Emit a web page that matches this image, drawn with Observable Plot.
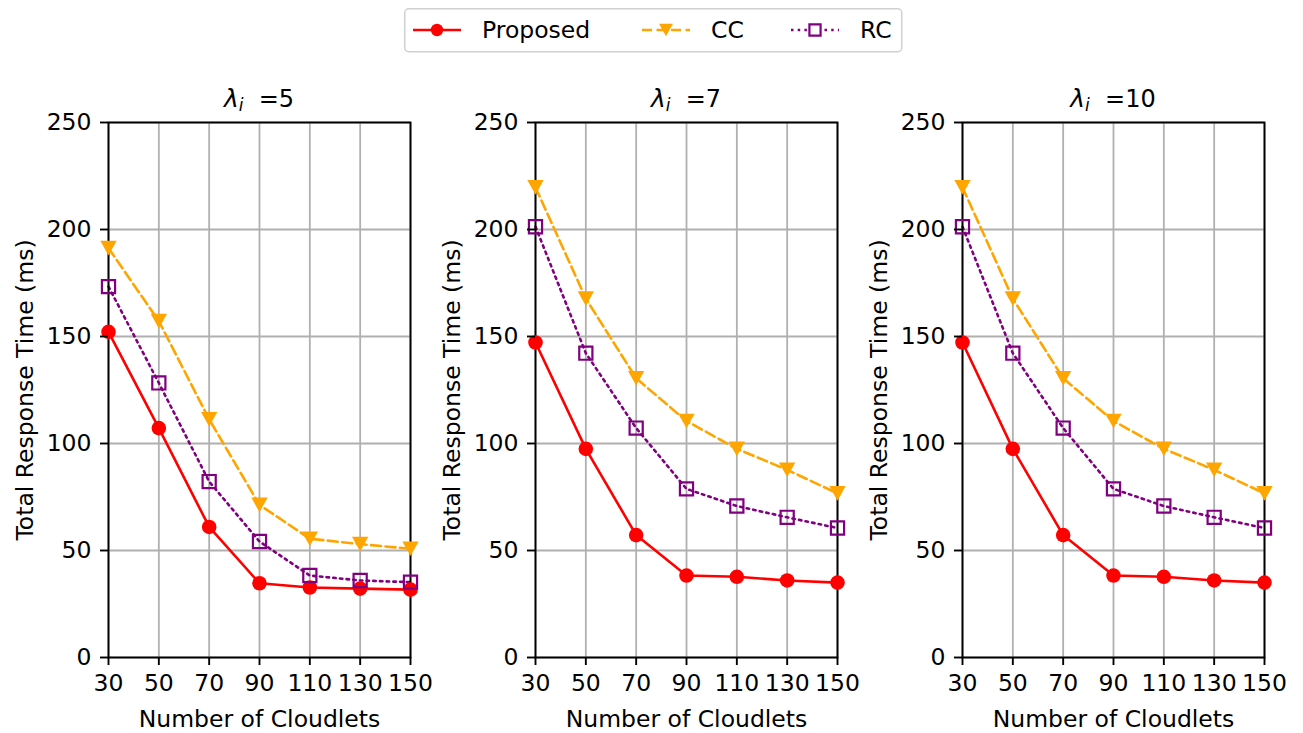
<!DOCTYPE html>
<html>
<head>
<meta charset="utf-8">
<script src="https://cdn.jsdelivr.net/npm/d3@7"></script>
<script src="https://cdn.jsdelivr.net/npm/@observablehq/plot@0.6"></script>
<style>
  body { margin: 0; background: #fff; }
  #wrap { position: relative; width: 1303px; height: 733px; overflow: hidden; font-family: "DejaVu Sans", sans-serif; }
  .panel { position: absolute; top: 0; }
  #legend { position: absolute; left: 404px; top: 8px; }
  svg text { white-space: pre; }
</style>
</head>
<body>
<div id="wrap"></div>
<script>
// ---------- data ----------
const cloudlets = [30, 50, 70, 90, 110, 130, 150];
const yTicks = [0, 50, 100, 150, 200, 250];
const lambdaLabels = ["5", "7", "10"];
const seriesNames = ["Proposed", "CC", "RC"];

const proposed5 = [152.2, 107.2, 61.0, 34.7, 32.7, 32.2, 31.7];
const cc5       = [191.3, 157.2, 111.3, 71.3, 55.5, 53.0, 50.8];
const rc5       = [173.3, 128.3, 82.2, 54.2, 38.3, 36.0, 35.2];

const proposed7 = [147.2, 97.5, 57.2, 38.3, 37.7, 36.0, 35.0];
const cc7       = [219.7, 167.7, 130.5, 110.5, 97.5, 87.7, 76.7];
const rc7       = [201.3, 142.2, 107.2, 78.8, 70.8, 65.5, 60.5];

const proposed10 = [147.2, 97.5, 57.2, 38.3, 37.7, 36.0, 35.0];
const cc10       = [219.7, 167.7, 130.5, 110.5, 97.5, 87.7, 76.7];
const rc10       = [201.3, 142.2, 107.2, 78.8, 70.8, 65.5, 60.5];

const xLabel = "Number of Cloudlets";
const yLabel = "Total Response Time (ms)";

// ---------- styles ----------
const FONT = '"DejaVu Sans", sans-serif';
const FS = 23.5;
const colors = { Proposed: "#ff0000", CC: "#ffa500", RC: "#800080" };
const LW = 2.6;
const MR = 7.3;
const DASH = "10,4.5";
const DOT = "2.5,4.2";

const triangleDown = {
  draw(ctx, size) {
    const r = Math.sqrt(size / Math.PI);
    const hw = r * 1.12, hh = r * 1.0;
    ctx.moveTo(-hw, -hh); ctx.lineTo(hw, -hh); ctx.lineTo(0, hh); ctx.closePath();
  }
};
const squareSym = {
  draw(ctx, size) {
    const r = Math.sqrt(size / Math.PI) * 0.9;
    ctx.moveTo(-r, -r); ctx.lineTo(r, -r); ctx.lineTo(r, r); ctx.lineTo(-r, r); ctx.closePath();
  }
};

const wrap = document.getElementById("wrap");

function makePanel(idx, prop, cc, rc) {
  const rows = s => cloudlets.map((x, i) => ({ x, y: s[i] }));
  const svg = Plot.plot({
    width: 427, height: 733,
    marginLeft: 108, marginRight: 17, marginTop: 122, marginBottom: 76,
    x: { domain: [30, 150] },
    y: { domain: [0, 250] },
    style: { fontFamily: FONT, fontSize: FS + "px", color: "black", background: "transparent", overflow: "visible" },
    marks: [
      Plot.gridX(cloudlets, { stroke: "#b0b0b0", strokeOpacity: 1, strokeWidth: 1.8 }),
      Plot.gridY(yTicks, { stroke: "#b0b0b0", strokeOpacity: 1, strokeWidth: 1.8 }),
      Plot.line(rows(prop), { x: "x", y: "y", stroke: colors.Proposed, strokeWidth: LW }),
      Plot.line(rows(cc), { x: "x", y: "y", stroke: colors.CC, strokeWidth: LW, strokeDasharray: DASH }),
      Plot.line(rows(rc), { x: "x", y: "y", stroke: colors.RC, strokeWidth: LW, strokeDasharray: DOT }),
      Plot.frame({ stroke: "black", strokeWidth: 1.9 }),
      Plot.dot(rows(prop), { x: "x", y: "y", r: MR, symbol: "circle", fill: colors.Proposed, stroke: "none" }),
      Plot.dot(rows(cc), { x: "x", y: "y", r: MR, symbol: triangleDown, fill: colors.CC, stroke: "none" }),
      Plot.dot(rows(rc), { x: "x", y: "y", r: MR, symbol: squareSym, fill: "none", stroke: colors.RC, strokeWidth: 2.2 }),
      Plot.axisX(cloudlets, { tickSize: 8, tickPadding: 9, fontSize: FS, label: null, strokeWidth: 1.9 }),
      Plot.axisY(yTicks, { tickSize: 8, tickPadding: 9, fontSize: FS, label: null, strokeWidth: 1.9 }),
      Plot.text([xLabel], { frameAnchor: "bottom", dy: 61.5, lineAnchor: "middle", textAnchor: "middle", fontSize: FS, text: d => d }),
      Plot.text([yLabel], { frameAnchor: "left", dx: -83.5, rotate: -90, lineAnchor: "middle", textAnchor: "middle", fontSize: FS, text: d => d })
    ]
  });
  svg.classList.add("panel");
  svg.style.left = (idx * 427) + "px";
  d3.select(svg).selectAll("g[aria-label$='tick label']").attr("font-size", FS).style("font-size", FS + "px");
  // title
  const t = d3.select(svg).append("text")
    .attr("x", 108 + 151).attr("y", 107)
    .attr("text-anchor", "middle")
    .attr("font-family", FONT).style("font-size", "24px").attr("fill", "black");
  t.append("tspan").attr("font-style", "italic").style("font-size", "25px").text("λ");
  t.append("tspan").attr("font-style", "italic").style("font-size", "17px").attr("dy", 4).text("i");
  t.append("tspan").attr("dy", -4).text("  =" + lambdaLabels[idx]);
  wrap.appendChild(svg);
}

makePanel(0, proposed5, cc5, rc5);
makePanel(1, proposed7, cc7, rc7);
makePanel(2, proposed10, cc10, rc10);

// ---------- legend ----------
const lg = d3.select(wrap).append("svg").attr("id", "legend")
  .attr("width", 499).attr("height", 45);
lg.append("rect").attr("x", 0.75).attr("y", 0.75).attr("width", 497).attr("height", 43)
  .attr("rx", 4).attr("fill", "white").attr("stroke", "#d0d0d0").attr("stroke-width", 1.5);
const legendX = [9, 238, 387];
const dashes = { Proposed: null, CC: DASH, RC: DOT };
const syms = { Proposed: d3.symbolCircle, CC: triangleDown, RC: squareSym };
const symSize = Math.PI * 6.2 * 6.2;
seriesNames.forEach((name, i) => {
  const x0 = legendX[i], cy = 22;
  lg.append("line").attr("x1", x0).attr("x2", x0 + 48).attr("y1", cy).attr("y2", cy)
    .attr("stroke", colors[name]).attr("stroke-width", LW)
    .attr("stroke-dasharray", dashes[name]);
  const p = lg.append("path").attr("transform", `translate(${x0 + 24},${cy})`)
    .attr("d", d3.symbol(syms[name], symSize)());
  if (name === "RC") p.attr("fill", "white").attr("stroke", colors[name]).attr("stroke-width", 2.2);
  else p.attr("fill", colors[name]);
  lg.append("text").attr("x", x0 + 69).attr("y", 30)
    .attr("font-family", FONT).style("font-size", FS + "px").attr("fill", "black").text(name);
});
</script>
</body>
</html>
